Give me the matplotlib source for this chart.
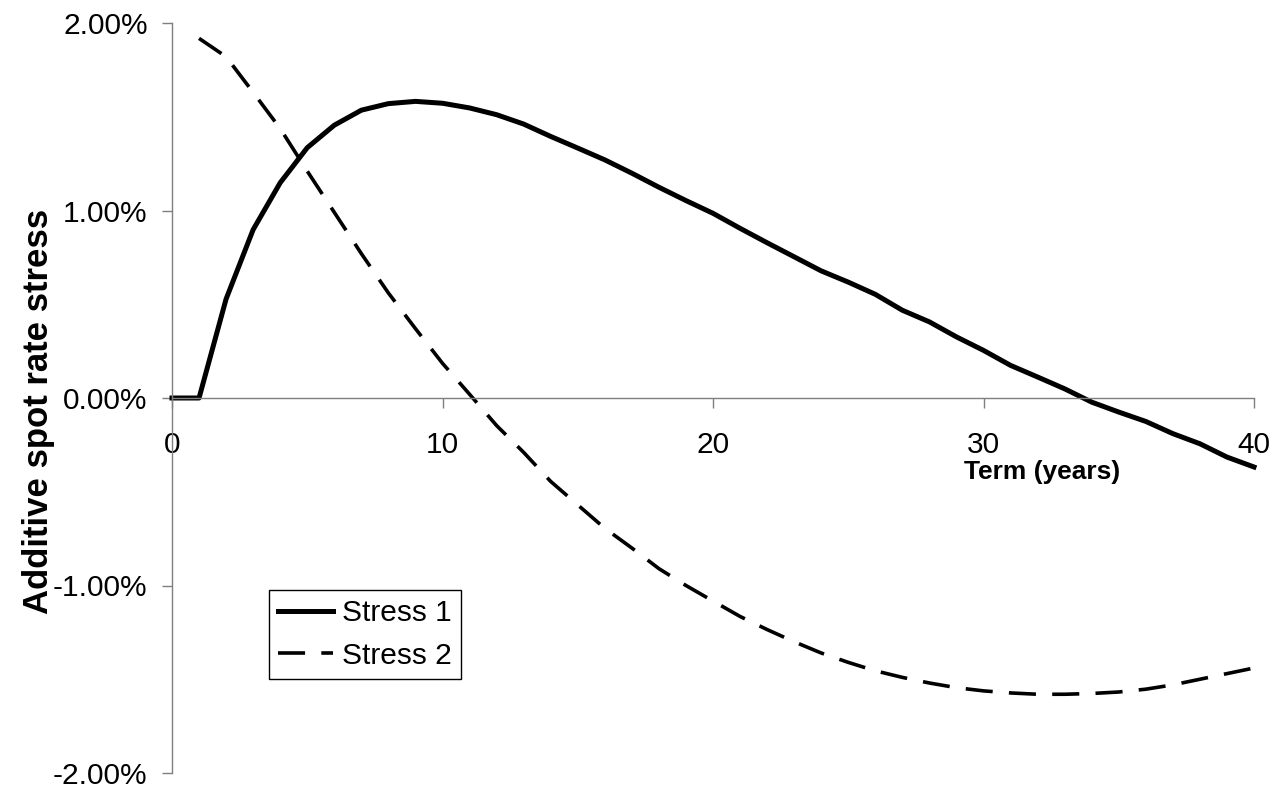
import matplotlib
matplotlib.use("Agg")
import matplotlib.pyplot as plt
from matplotlib.ticker import FuncFormatter

plt.rcParams['font.family'] = ['Liberation Sans', 'DejaVu Sans']

# Term in years
years_s1 = list(range(0, 41))
years_s2 = list(range(1, 41))

# Additive spot rate stress (%)
stress1 = [0.0, 0.0, 0.528, 0.898, 1.148, 1.335, 1.455, 1.535, 1.57, 1.582,
           1.572, 1.547, 1.511, 1.461, 1.395, 1.333, 1.270, 1.199, 1.124, 1.053,
           0.985, 0.905, 0.828, 0.753, 0.678, 0.618, 0.553, 0.468, 0.406, 0.326,
           0.254, 0.174, 0.112, 0.049, -0.022, -0.075, -0.125, -0.19, -0.244, -0.315,
           -0.368]
stress2 = [1.918, 1.82, 1.63, 1.437, 1.21, 0.99, 0.77, 0.56, 0.37, 0.185,
           0.02, -0.147, -0.29, -0.445, -0.57, -0.695, -0.80, -0.91, -1.0, -1.083,
           -1.165, -1.235, -1.30, -1.36, -1.41, -1.455, -1.49, -1.52, -1.545, -1.562,
           -1.573, -1.58, -1.58, -1.576, -1.568, -1.553, -1.53, -1.50, -1.47, -1.44]

x_ticks = [0, 10, 20, 30, 40]
y_ticks = [-2, -1, 0, 1, 2]
series_labels = ["Stress 1", "Stress 2"]

W, H = 1279, 789
fig = plt.figure(figsize=(W / 100, H / 100), dpi=100)
ax = fig.add_axes([172 / W, 1 - 773 / H, (1254 - 172) / W, (773 - 23) / H])

ax.plot(years_s1, stress1, color="black", lw=3.6, solid_joinstyle="round",
        label=series_labels[0], clip_on=False)
ax.plot(years_s2, stress2, color="black", lw=2.6, dashes=(7.5, 4.5),
        label=series_labels[1], clip_on=False)

ax.set_xlim(0, 40)
ax.set_ylim(-2, 2)
ax.set_xticks(x_ticks)
ax.set_yticks(y_ticks)
ax.yaxis.set_major_formatter(FuncFormatter(lambda v, p: f"{v:.2f}%"))

spine_color = "#7f7f7f"
for s in ("top", "right"):
    ax.spines[s].set_visible(False)
ax.spines["bottom"].set_position(("data", 0))
for s in ("left", "bottom"):
    ax.spines[s].set_color(spine_color)
    ax.spines[s].set_linewidth(1.0)

ax.tick_params(axis="both", colors=spine_color, labelcolor="black",
               labelsize=21.5, length=7, width=1.0)
ax.tick_params(axis="x", direction="out", pad=17)
ax.tick_params(axis="y", direction="out", pad=10.5)

fig.text(1042 / W, 1 - 479 / H, "Term (years)", ha="center", va="baseline",
         fontsize=19, fontweight="bold")
fig.text(39 / W, 1 - 411 / H, "Additive spot rate stress", ha="center",
         va="center", rotation=90, fontsize=25, fontweight="bold")

leg = ax.legend(loc="upper left", bbox_to_anchor=(269 / W, 1 - 590 / H),
                bbox_transform=fig.transFigure, borderaxespad=0,
                fancybox=False, framealpha=1, edgecolor="black",
                fontsize=21.5, handlelength=1.85, handletextpad=0.3,
                borderpad=0.3, labelspacing=0.5)
leg.get_frame().set_linewidth(1.0)

fig.savefig("out.png", dpi=100, facecolor="white")
